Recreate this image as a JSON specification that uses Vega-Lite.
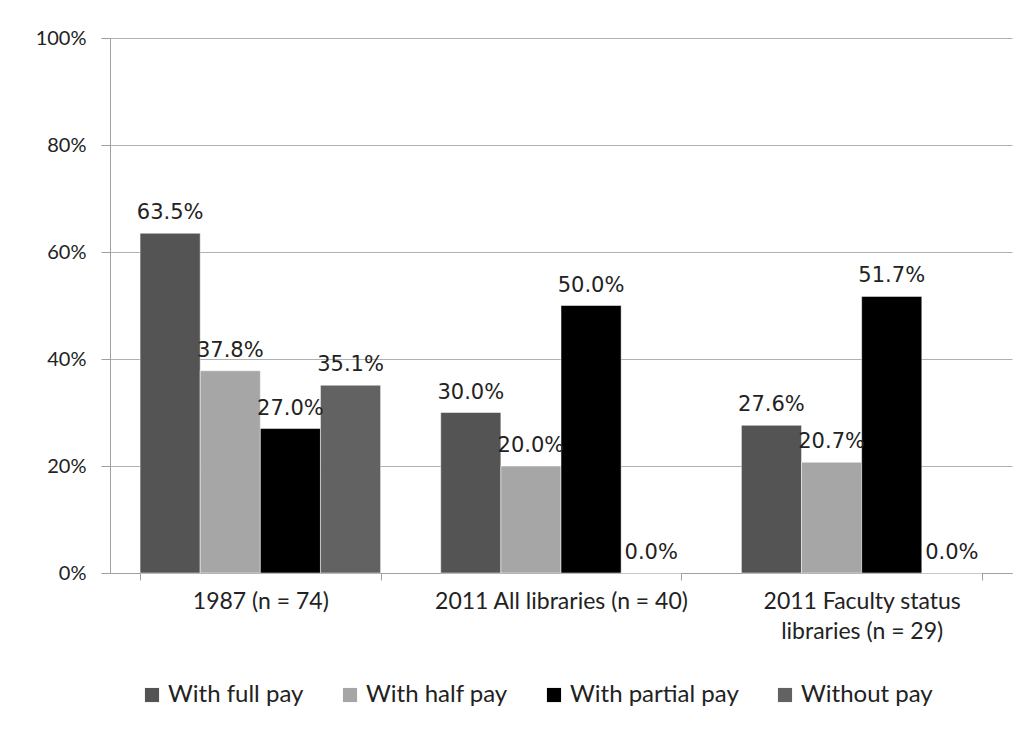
{
  "$schema": "https://vega.github.io/schema/vega-lite/v6.json",
  "width": 902,
  "height": 535,
  "autosize": "none",
  "padding": {"left": 110, "top": 38, "right": 17, "bottom": 159},
  "background": "white",
  "config": {"view": {"stroke": null}, "font": "Lato"},
  "data": {
    "values": [
      {"group": "1987 (n = 74)", "series": "With full pay", "value": 0.635},
      {"group": "1987 (n = 74)", "series": "With half pay", "value": 0.378},
      {"group": "1987 (n = 74)", "series": "With partial pay", "value": 0.270},
      {"group": "1987 (n = 74)", "series": "Without pay", "value": 0.351},
      {"group": "2011 All libraries (n = 40)", "series": "With full pay", "value": 0.300},
      {"group": "2011 All libraries (n = 40)", "series": "With half pay", "value": 0.200},
      {"group": "2011 All libraries (n = 40)", "series": "With partial pay", "value": 0.500},
      {"group": "2011 All libraries (n = 40)", "series": "Without pay", "value": 0.0},
      {"group": "2011 Faculty status libraries (n = 29)", "series": "With full pay", "value": 0.276},
      {"group": "2011 Faculty status libraries (n = 29)", "series": "With half pay", "value": 0.207},
      {"group": "2011 Faculty status libraries (n = 29)", "series": "With partial pay", "value": 0.517},
      {"group": "2011 Faculty status libraries (n = 29)", "series": "Without pay", "value": 0.0}
    ]
  },
  "encoding": {
    "x": {
      "field": "group",
      "type": "nominal",
      "sort": null,
      "scale": {"paddingInner": 0.2, "paddingOuter": 0.1},
      "axis": {
        "title": null,
        "labelAngle": 0,
        "tickBand": "extent",
        "domainColor": "#a0a0a0",
        "tickColor": "#a0a0a0",
        "tickSize": 7,
        "labelFont": "Lato",
        "labelFontSize": 23,
        "labelColor": "#222222",
        "labelPadding": 10,
        "labelLimit": 0,
        "labelLineHeight": 30,
        "labelExpr": "datum.label == '2011 Faculty status libraries (n = 29)' ? ['2011 Faculty status', 'libraries (n = 29)'] : datum.label"
      }
    },
    "xOffset": {
      "field": "series",
      "type": "nominal",
      "sort": ["With full pay", "With half pay", "With partial pay", "Without pay"]
    },
    "y": {
      "field": "value",
      "type": "quantitative",
      "scale": {"domain": [0, 1]},
      "axis": {
        "title": null,
        "format": ".0%",
        "values": [0, 0.2, 0.4, 0.6, 0.8, 1],
        "grid": true,
        "gridColor": "#b0b0b0",
        "domainColor": "#a0a0a0",
        "tickColor": "#a0a0a0",
        "tickSize": 9,
        "labelPadding": 15,
        "labelFont": "Lato",
        "labelFontSize": 20,
        "labelColor": "#222222"
      }
    }
  },
  "layer": [
    {
      "mark": {"type": "bar", "stroke": "white", "strokeWidth": 0.5},
      "encoding": {
        "fill": {
          "field": "series",
          "type": "nominal",
          "sort": ["With full pay", "With half pay", "With partial pay", "Without pay"],
          "scale": {
            "domain": ["With full pay", "With half pay", "With partial pay", "Without pay"],
            "range": ["#545454", "#a6a6a6", "#000000", "#626262"]
          },
          "legend": {
            "title": null,
            "orient": "none",
            "direction": "horizontal",
            "legendX": 30,
            "legendY": 645,
            "symbolType": "square",
            "symbolSize": 200,
            "symbolStrokeWidth": 0,
            "labelFont": "Lato",
            "labelFontSize": 24,
            "labelLimit": 0,
            "labelColor": "#222222",
            "labelOffset": 4,
            "columnPadding": 34
          }
        }
      }
    },
    {
      "mark": {"type": "text", "font": "DejaVu Sans", "fontSize": 21, "baseline": "alphabetic", "dy": -14, "color": "#222222"},
      "encoding": {
        "text": {"field": "value", "type": "quantitative", "format": ".1%"}
      }
    }
  ]
}
